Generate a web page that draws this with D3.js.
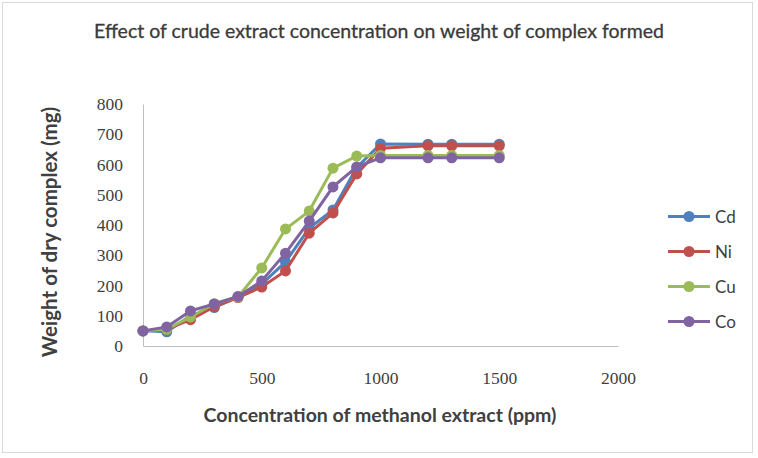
<!DOCTYPE html>
<html>
<head>
<meta charset="utf-8">
<script src="https://cdn.jsdelivr.net/npm/d3@7"></script>
<style>
  body { margin: 0; background: #fff; }
  text { font-family: Lato, "Open Sans", sans-serif; fill: #404040; }
</style>
</head>
<body>
<svg id="chart"></svg>
<script>
// Data
const concentrations = [0, 100, 200, 300, 400, 500, 600, 700, 800, 900, 1000, 1200, 1300, 1500];
const cd = [50, 47, 100, 127, 162, 205, 278, 390, 450, 590, 668, 667, 667, 667];
const ni = [50, 55, 87, 130, 160, 195, 248, 373, 440, 569, 654, 662, 662, 662];
const cu = [50, 55, 96, 140, 162, 258, 387, 446, 588, 628, 630, 630, 630, 630];
const co = [50, 63, 116, 139, 164, 215, 307, 413, 526, 592, 622, 622, 622, 622];
const seriesNames = ["Cd", "Ni", "Cu", "Co"];
const xTicks = [0, 500, 1000, 1500, 2000];
const yTicks = [0, 100, 200, 300, 400, 500, 600, 700, 800];

const width = 758;
const height = 458;
const colors = ["#4F81BD", "#C0504D", "#9BBB59", "#8064A2"];
const series = [cd, ni, cu, co];

const svg = d3.select("#chart").attr("width", width).attr("height", height);

// outer chart border
svg.append("rect")
  .attr("x", 2.5).attr("y", 2.5)
  .attr("width", 750).attr("height", 450)
  .attr("fill", "#fff")
  .attr("stroke", "#d9d9d9");

const x = d3.scaleLinear().domain([0, 2000]).range([143, 618]);
const y = d3.scaleLinear().domain([0, 800]).range([346, 104]);

// axes
const xAxis = svg.append("g")
  .attr("transform", `translate(0,${y(0)})`)
  .call(d3.axisBottom(x).tickValues(xTicks).tickFormat(d3.format("d")).tickSize(0).tickPadding(26));
const yAxis = svg.append("g")
  .attr("transform", `translate(${x(0)},0)`)
  .call(d3.axisLeft(y).tickValues(yTicks).tickFormat(d3.format("d")).tickSize(0).tickPadding(20));

[xAxis, yAxis].forEach((a) => {
  a.select(".domain").attr("stroke", "#bfbfbf");
  a.selectAll("text")
    .style("font-size", "17.5px")
    .style("fill", "#404040")
    .style("font-family", "'Liberation Serif', 'DejaVu Serif', serif");
});

// lines and markers
const line = d3.line()
  .x((d, i) => x(concentrations[i]))
  .y((d) => y(d));

series.forEach((s, k) => {
  svg.append("path")
    .datum(s)
    .attr("d", line)
    .attr("fill", "none")
    .attr("stroke", colors[k])
    .attr("stroke-width", 3);

  svg.selectAll(".pt" + k)
    .data(s)
    .enter()
    .append("circle")
    .attr("cx", (d, i) => x(concentrations[i]))
    .attr("cy", (d) => y(d))
    .attr("r", 5.5)
    .attr("fill", colors[k]);
});

// title
svg.append("text")
  .attr("x", 379).attr("y", 38)
  .attr("text-anchor", "middle")
  .style("font-size", "19.5px")
  .style("fill", "#3a3a3a")
  .style("stroke", "#3a3a3a")
  .style("stroke-width", 0.3)
  .text("Effect of crude extract concentration on weight of complex formed");

// axis titles
svg.append("text")
  .attr("x", 380).attr("y", 422)
  .attr("text-anchor", "middle")
  .style("font-size", "19.5px")
  .style("font-weight", "bold")
  .text("Concentration of methanol extract (ppm)");

svg.append("text")
  .attr("transform", "translate(57,232) rotate(-90)")
  .attr("text-anchor", "middle")
  .style("font-size", "20.5px")
  .style("font-weight", "bold")
  .text("Weight of dry complex (mg)");

// legend
const legend = svg.selectAll(".legend")
  .data(seriesNames)
  .enter()
  .append("g")
  .attr("transform", (d, i) => `translate(668,${216.5 + i * 35})`);

legend.append("line")
  .attr("x1", 0).attr("x2", 42)
  .attr("stroke", (d, i) => colors[i])
  .attr("stroke-width", 3);
legend.append("circle")
  .attr("cx", 21).attr("r", 5.5)
  .attr("fill", (d, i) => colors[i]);
legend.append("text")
  .attr("x", 47).attr("dy", "0.36em")
  .style("font-size", "17px")
  .text((d) => d);
</script>
</body>
</html>
